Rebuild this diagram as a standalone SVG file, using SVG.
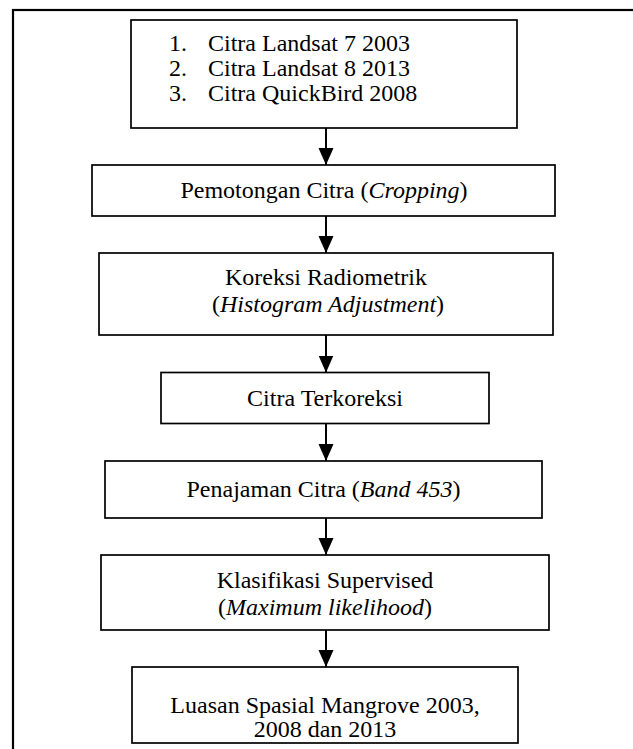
<svg xmlns="http://www.w3.org/2000/svg" width="633" height="749" viewBox="0 0 633 749">
<style>
  .frame{fill:none;stroke:#000;stroke-width:2.2}
  .box{fill:#fff;stroke:#000;stroke-width:1.7}
  .t{font-family:"Liberation Serif","Times New Roman",serif;font-size:24px;fill:#000}
  .c{text-anchor:middle}
  .conn{stroke:#000;stroke-width:2;fill:none;marker-end:url(#ah)}
</style>
<defs>
  <marker id="ah" markerUnits="userSpaceOnUse" markerWidth="18" markerHeight="16" refX="17" refY="7.5" orient="auto">
    <path d="M0,0 L17,7.5 L0,15 z" fill="#000"/>
  </marker>
</defs>
<rect class="frame" x="13" y="10" width="700" height="800"/>
<g id="connectors">
  <line class="conn" x1="326" y1="128" x2="326" y2="165"/>
  <line class="conn" x1="326" y1="216" x2="326" y2="253"/>
  <line class="conn" x1="326" y1="335" x2="326" y2="372.5"/>
  <line class="conn" x1="326" y1="423.5" x2="326" y2="461"/>
  <line class="conn" x1="326" y1="518" x2="326" y2="555"/>
  <line class="conn" x1="326" y1="630" x2="326" y2="667"/>
</g>
<g id="n1">
  <rect class="box" x="131" y="20" width="386" height="108"/>
  <text class="t" x="169" y="51">1.</text><text class="t" x="208" y="51">Citra Landsat 7 2003</text>
  <text class="t" x="169" y="76">2.</text><text class="t" x="208" y="76">Citra Landsat 8 2013</text>
  <text class="t" x="169" y="101">3.</text><text class="t" x="208" y="101">Citra QuickBird 2008</text>
</g>
<g id="n2">
  <rect class="box" x="92" y="165" width="463" height="51"/>
  <text class="t c" x="324" y="198">Pemotongan Citra (<tspan font-style="italic">Cropping</tspan>)</text>
</g>
<g id="n3">
  <rect class="box" x="99" y="253" width="454" height="82"/>
  <text class="t c" x="326" y="285">Koreksi Radiometrik</text>
  <text class="t c" x="328" y="312">(<tspan font-style="italic">Histogram Adjustment</tspan>)</text>
</g>
<g id="n4">
  <rect class="box" x="161" y="372.5" width="328" height="51"/>
  <text class="t c" x="325" y="406">Citra Terkoreksi</text>
</g>
<g id="n5">
  <rect class="box" x="105" y="461" width="437" height="57"/>
  <text class="t c" x="323.5" y="497">Penajaman Citra (<tspan font-style="italic">Band 453</tspan>)</text>
</g>
<g id="n6">
  <rect class="box" x="101" y="555" width="448" height="75"/>
  <text class="t c" x="325" y="588">Klasifikasi Supervised</text>
  <text class="t c" x="325" y="615">(<tspan font-style="italic">Maximum likelihood</tspan>)</text>
</g>
<g id="n7">
  <rect class="box" x="132" y="667" width="386" height="76"/>
  <text class="t c" x="325" y="713">Luasan Spasial Mangrove 2003,</text>
  <text class="t c" x="325" y="737">2008 dan 2013</text>
</g>
</svg>
